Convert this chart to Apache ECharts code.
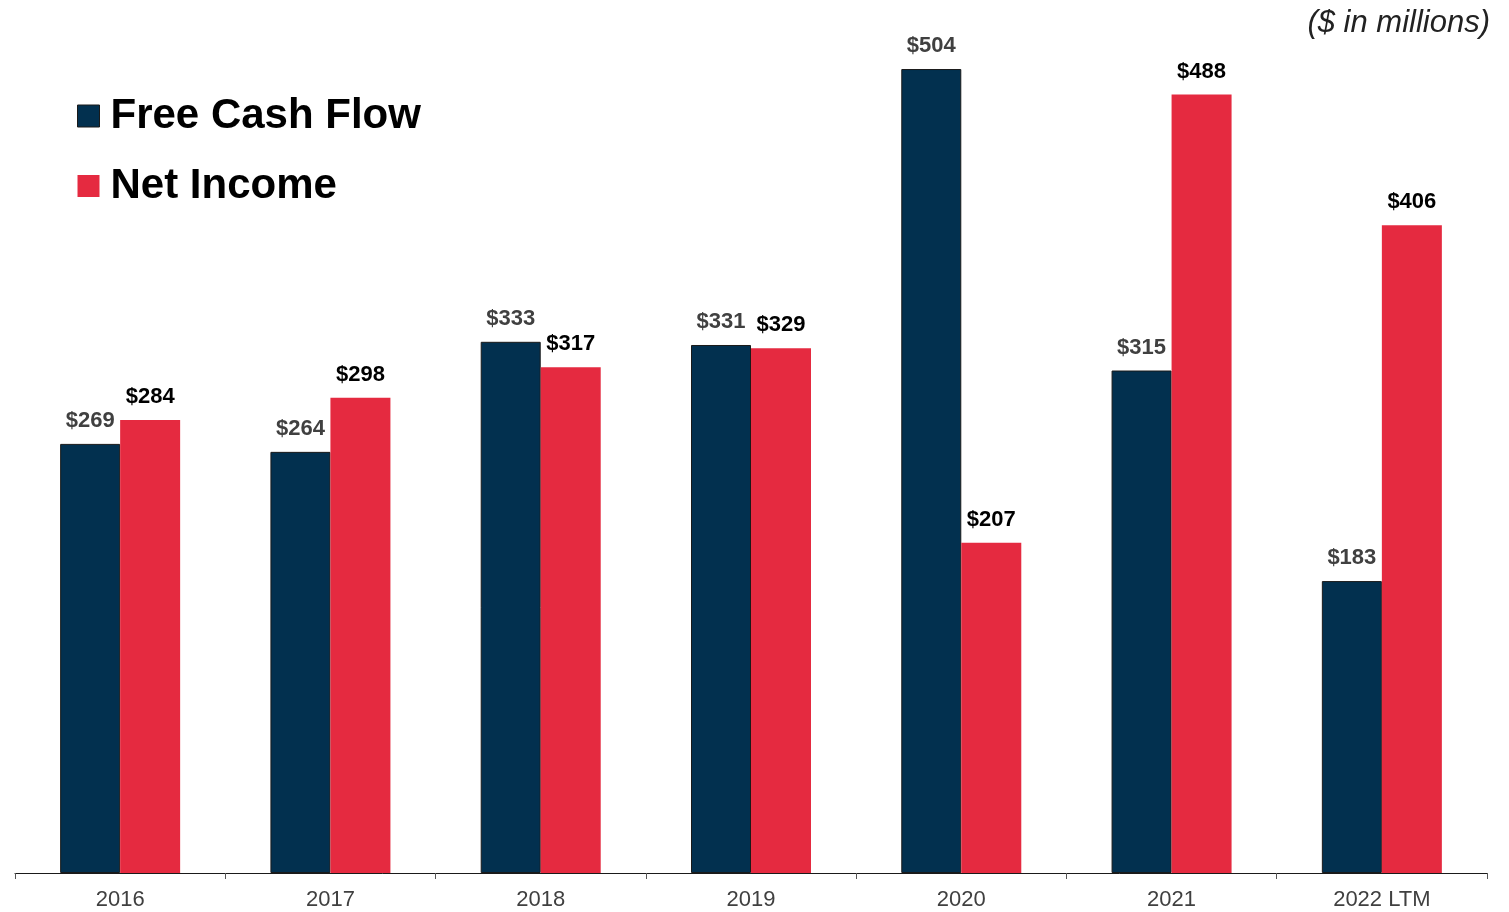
<!DOCTYPE html>
<html>
<head>
<meta charset="utf-8">
<script src="https://cdn.jsdelivr.net/npm/echarts@6/dist/echarts.min.js"></script>
<style>
  html, body { margin: 0; padding: 0; background: #fff; }
  #chart { width: 1509px; height: 912px; }
</style>
</head>
<body>
<div id="chart"></div>
<script>
// Annual figures, $ in millions
const years = ['2016', '2017', '2018', '2019', '2020', '2021', '2022 LTM'];
const freeCashFlow = [269, 264, 333, 331, 504, 315, 183];
const netIncome = [284, 298, 317, 329, 207, 488, 406];

const NAVY = '#02304F';
const RED = '#E52A40';
const FONT = '"Liberation Sans", Arial, Helvetica, sans-serif';

const chart = echarts.init(document.getElementById('chart'));

chart.setOption({
  animation: false,
  backgroundColor: '#ffffff',
  title: {
    text: '($ in millions)',
    right: 14,
    top: 3,
    textStyle: {
      fontFamily: FONT,
      fontStyle: 'italic',
      fontWeight: 'normal',
      fontSize: 31,
      color: '#222222'
    }
  },
  legend: {
    orient: 'vertical',
    left: 72,
    top: 89,
    itemWidth: 22,
    itemHeight: 22,
    itemGap: 26,
    icon: 'rect',
    textStyle: {
      fontFamily: FONT,
      fontWeight: 'bold',
      fontSize: 42,
      lineHeight: 44,
      color: '#000000',
      padding: [0, 0, 0, 6]
    },
    data: [
      { name: 'Free Cash Flow', itemStyle: { color: NAVY, borderColor: '#1a1a1a', borderWidth: 1 } },
      { name: 'Net Income', itemStyle: { color: RED } }
    ]
  },
  grid: {
    left: 15,
    right: 22,
    top: 11.6,
    bottom: 39,
    containLabel: false
  },
  xAxis: {
    type: 'category',
    data: years,
    axisLine: { lineStyle: { color: '#1a1a1a', width: 1 } },
    axisTick: { show: true, length: 6, lineStyle: { color: '#555555' } },
    axisLabel: {
      fontFamily: FONT,
      fontSize: 22,
      color: '#404040',
      margin: 16
    }
  },
  yAxis: {
    type: 'value',
    min: 0,
    max: 540,
    show: false,
    splitLine: { show: false }
  },
  series: [
    {
      name: 'Free Cash Flow',
      type: 'bar',
      data: freeCashFlow,
      barWidth: 60,
      barGap: '0%',
      itemStyle: { color: NAVY, borderColor: '#1a1a1a', borderWidth: 1 },
      label: {
        show: true,
        position: 'top',
        distance: 12,
        formatter: p => '$' + p.value,
        fontFamily: FONT,
        fontWeight: 'bold',
        fontSize: 22,
        color: '#404040'
      }
    },
    {
      name: 'Net Income',
      type: 'bar',
      data: netIncome,
      barWidth: 60,
      barGap: '0%',
      itemStyle: { color: RED },
      label: {
        show: true,
        position: 'top',
        distance: 12,
        formatter: p => '$' + p.value,
        fontFamily: FONT,
        fontWeight: 'bold',
        fontSize: 22,
        color: '#000000'
      }
    }
  ]
});
</script>
</body>
</html>
